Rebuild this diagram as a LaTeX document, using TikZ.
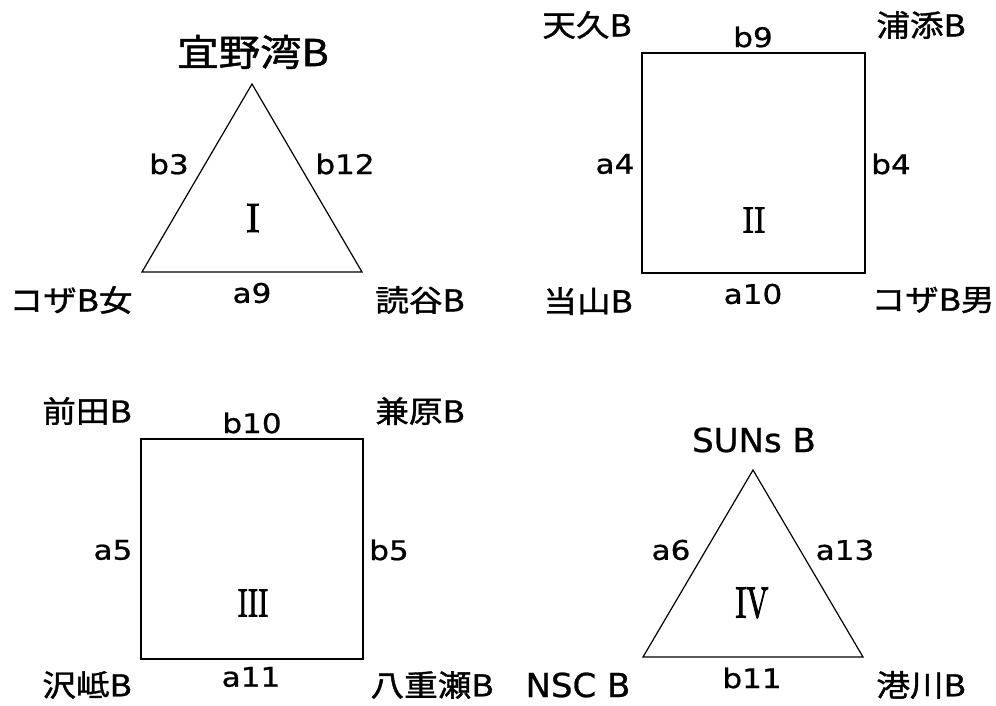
\documentclass[tikz,border=0pt]{standalone}
\usepackage{fontspec}
\usepackage{graphicx}
\newfontfamily\jpfont[FakeBold=1.2]{Noto Sans CJK JP}
\newfontfamily\lafont[FakeBold=0.8]{DejaVu Sans}
\newfontfamily\romfont[FakeBold=2.5]{Latin Modern Roman}
\newcommand\jplab[1]{\scalebox{1.12}[1]{\jpfont\fontsize{30}{30}\selectfont #1}}
\newcommand\jpbig[1]{\scalebox{1.12}[1]{\jpfont\fontsize{37}{37}\selectfont #1}}
\newcommand\edgelab[1]{\scalebox{1.15}[1]{\lafont\fontsize{27}{27}\selectfont #1}}
\newcommand\latbig[1]{\scalebox{1.03}[1]{\lafont\fontsize{33}{33}\selectfont #1}}
\newcommand\romnum[3]{\resizebox{#1pt}{#2pt}{\romfont #3}}
\tikzset{
  tri/.style={draw=black, line width=1.2pt, line join=miter},
  sq/.style={draw=black, line width=1.7pt},
  lab/.style={inner sep=0pt, anchor=center},
}
\begin{document}
\begin{tikzpicture}[x=1pt,y=-1pt]
\useasboundingbox[fill=white] (0,0) rectangle (996,706);
% Group I
\coordinate (t1a) at (252,84);
\coordinate (t1b) at (142,272);
\coordinate (t1c) at (362,272);
\draw[tri] (t1a) -- (t1b) -- (t1c) -- cycle;
\node[lab] (g1) at (253,52) {\jpbig{宜野湾B}};
\node[lab] (k1) at (71,300) {\jplab{コザB女}};
\node[lab] (y1) at (420,300) {\jplab{読谷B}};
\node[lab] (e1a) at (169,164) {\edgelab{b3}};
\node[lab] (e1b) at (345,164) {\edgelab{b12}};
\node[lab] (e1c) at (252,293) {\edgelab{a9}};
\node[lab] (r1) at (253,218) {\romnum{13}{28}{I}};
% Group II
\coordinate (s2a) at (642,53);
\coordinate (s2b) at (865,273);
\draw[sq] (s2a) rectangle (s2b);
\node[lab] (g2a) at (587,25) {\jplab{天久B}};
\node[lab] (g2b) at (921,25) {\jplab{浦添B}};
\node[lab] (g2c) at (588,301) {\jplab{当山B}};
\node[lab] (g2d) at (933,300) {\jplab{コザB男}};
\node[lab] (e2a) at (753,37) {\edgelab{b9}};
\node[lab] (e2b) at (615,164) {\edgelab{a4}};
\node[lab] (e2c) at (891,164) {\edgelab{b4}};
\node[lab] (e2d) at (753,294) {\edgelab{a10}};
\node[lab] (r2) at (754,220) {\romnum{22}{25}{II}};
% Group III
\coordinate (s3a) at (141,439);
\coordinate (s3b) at (363,659);
\draw[sq] (s3a) rectangle (s3b);
\node[lab] (g3a) at (87,411) {\jplab{前田B}};
\node[lab] (g3b) at (420,411) {\jplab{兼原B}};
\node[lab] (g3c) at (87,685) {\jplab{沢岻B}};
\node[lab] (g3d) at (432,685) {\jplab{八重瀬B}};
\node[lab] (e3a) at (252,423) {\edgelab{b10}};
\node[lab] (e3b) at (113,550) {\edgelab{a5}};
\node[lab] (e3c) at (389,550) {\edgelab{b5}};
\node[lab] (e3d) at (251,677) {\edgelab{a11}};
\node[lab] (r3) at (253,603) {\romnum{30}{27}{III}};
% Group IV
\coordinate (t4a) at (753,470);
\coordinate (t4b) at (643,657);
\coordinate (t4c) at (863,657);
\draw[tri] (t4a) -- (t4b) -- (t4c) -- cycle;
\node[lab] (g4a) at (754,440) {\latbig{SUNs B}};
\node[lab] (g4b) at (578,685) {\latbig{NSC B}};
\node[lab] (g4c) at (921,685) {\jplab{港川B}};
\node[lab] (e4a) at (671,550) {\edgelab{a6}};
\node[lab] (e4b) at (845,550) {\edgelab{a13}};
\node[lab] (e4c) at (752,678) {\edgelab{b11}};
\node[lab] (r4) at (752,603) {\romnum{33}{30}{IV}};
\end{tikzpicture}
\end{document}
